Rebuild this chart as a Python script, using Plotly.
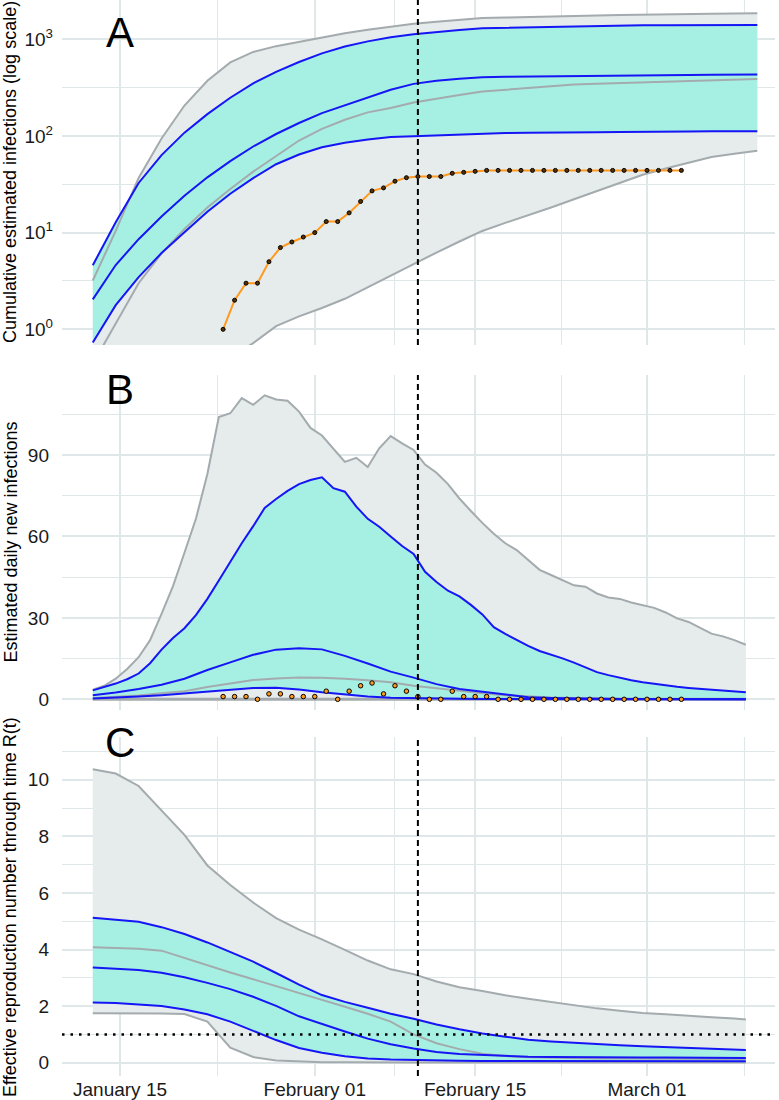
import pandas as pd
import plotly.graph_objects as go

# ---------------- data ----------------
curve_start = pd.Timestamp("2020-01-12 15:00")
steps_daily = list(range(0, 58))
steps_b2 = list(range(0, 57, 2)) + [57]
steps_a2 = list(range(0, 59, 2))

x_daily = [curve_start + pd.Timedelta(days=k) for k in steps_daily]
x_bc = [curve_start + pd.Timedelta(days=k) for k in steps_b2]
x_a = [curve_start + pd.Timedelta(days=k) for k in steps_a2]

obs_dates = list(pd.date_range("2020-01-24", "2020-03-04", freq="D"))
obs_daily = [1, 1, 1, 0, 2, 2, 1, 1, 1, 3, 0, 3, 5, 6, 2, 5, 3, 1, 0, 0, 3, 1, 1, 1,
             0, 0, 0, 0, 0, 0, 0, 0, 0, 0, 0, 0, 0, 0, 0, 0, 0]
obs_cum = [1, 2, 3, 3, 5, 7, 8, 9, 10, 13, 13, 16, 21, 27, 29, 34, 37, 38, 38, 38, 41, 42, 43, 44,
           44, 44, 44, 44, 44, 44, 44, 44, 44, 44, 44, 44, 44, 44, 44, 44, 44]

# Panel A: cumulative infections
A_upper_gray = [3.2, 10.4, 36.8, 94, 206, 371, 575, 738, 847, 938, 1047, 1151, 1250, 1337, 1445,
                1513, 1585, 1651, 1671, 1698, 1722, 1746, 1758, 1778, 1799, 1815, 1822, 1832, 1845, 1853]
A_upper_blue = [4.6, 12.8, 32.6, 63.3, 108, 168, 248, 349, 459, 581, 713, 841, 949, 1047, 1127,
                1194, 1245, 1300, 1315, 1330, 1349, 1365, 1376, 1383, 1390, 1396, 1398, 1400, 1402, 1404]
A_mid_blue = [2.04, 4.62, 8.55, 14.7, 24, 37.3, 54.9, 77.7, 104.6, 136, 172, 208, 250, 300, 345,
              372, 390, 403, 408, 411, 413, 415, 418, 421, 424, 426, 427, 428, 429, 430]
A_low_blue = [0.73, 1.78, 3.47, 6.15, 10.1, 16.4, 25.2, 36.6, 50.9, 64.2, 76.4, 85.1, 91.6, 97.5, 99,
              101, 104, 106, 107, 108, 108, 109, 109, 110, 110, 111, 111, 112, 112, 112]
A_mid_gray = [0.44, 1.17, 3.0, 6.1, 10.9, 18.2, 28.2, 42.7, 61.7, 89.6, 118, 147, 175, 194, 221,
              243, 265, 288, 300, 312, 325, 339, 347, 352, 359, 365, 373, 378, 383, 388]
A_low_gray = [0.008, 0.02, 0.05, 0.11, 0.2, 0.33, 0.5, 0.72, 1.08, 1.36, 1.66, 2.07, 2.73, 3.63, 4.81,
              6.22, 8.09, 10.4, 12.6, 15.1, 18.2, 22.1, 26.9, 32.7, 39.7, 46, 52.8, 60.5, 65.3, 70.2]

# Panel B: daily new infections
B_upper_gray = [3.5, 5.0, 7.6, 11.2, 15.5, 21.8, 31.5, 41.7, 54, 66.5,
                83, 104, 105.4, 111, 108.5, 112, 110.5, 110, 106, 100,
                97.2, 92.5, 87.5, 89, 85.6, 92.5, 97, 94.3, 91.9, 86.5,
                83.5, 79.3, 74, 69.4, 65, 61, 57.5, 55, 51.5, 47.7,
                45.8, 44, 42, 41.5, 39, 37.5, 37, 35.7, 34.7, 33.7,
                32, 29.8, 28.5, 26.5, 24.2, 23.2, 21.8, 20.1]
B_upper_blue = [3.3, 4.5, 5.8, 7.4, 9.5, 13.3, 18.3, 22.6, 26.2, 31,
                37, 43.8, 50.7, 57.5, 63.8, 70.5, 73.8, 76.8, 79.3, 80.8,
                81.8, 77.8, 76.5, 71, 66.5, 63.6, 60, 56.5, 53.6, 47,
                43.2, 40, 37.9, 34.8, 31.3, 26.6, 24.1, 21.8, 19.7, 17.8,
                16.5, 15.1, 13.5, 11.8, 10, 8.9, 7.9, 7, 6.3, 5.7,
                5.1, 4.6, 4.2, 3.9, 3.5, 3.2, 2.9, 2.6]
B_mid_blue = [1.5, 2.5, 3.8, 5.4, 7.6, 10.8, 13.6, 16.4, 18.3, 18.8, 18.4, 16, 13.2, 10.2, 8,
              5.6, 3.8, 2.8, 1.6, 0.8, 0.5, 0.3, 0.2, 0.15, 0.1, 0.1, 0.08, 0.06, 0.05, 0.05]
B_low_blue = [0.3, 0.6, 1.0, 1.5, 2.2, 3.0, 3.7, 4.2, 4.3, 3.6, 2.6, 1.7, 1.0, 0.6, 0.4,
              0.3, 0.2, 0.1, 0.05, 0.05, 0.03, 0.02, 0.02, 0.01, 0.01, 0.01, 0.01, 0.01, 0.01, 0.01]
B_mid_gray = [0.5, 0.9, 1.4, 2.2, 3.0, 4.5, 5.9, 7.1, 7.7, 8.0, 7.9, 7.6, 7.0, 6.3, 5.0,
              4.0, 3.0, 2.2, 1.5, 1.0, 0.7, 0.5, 0.3, 0.2, 0.1, 0.05, 0.05, 0.05, 0.05, 0.05]
B_low_gray = [0, 0, 0, 0, 0, 0, 0, 0, 0, 0, 0, 0, 0, 0, 0,
              0, 0, 0, 0, 0, 0, 0, 0, 0, 0, 0, 0, 0, 0, 0]

# Panel C: effective reproduction number
C_upper_gray = [10.37, 10.22, 9.78, 8.9, 8.05, 6.97, 6.28, 5.66, 5.11, 4.7, 4.36, 3.99, 3.61, 3.3, 3.13,
                2.87, 2.67, 2.53, 2.38, 2.26, 2.15, 2.04, 1.92, 1.84, 1.76, 1.71, 1.67, 1.61, 1.56, 1.53]
C_upper_blue = [5.12, 5.06, 4.98, 4.79, 4.55, 4.25, 3.92, 3.57, 3.17, 2.76, 2.39, 2.15, 1.94, 1.73, 1.55,
                1.35, 1.18, 1.03, 0.92, 0.81, 0.75, 0.7, 0.66, 0.62, 0.58, 0.55, 0.52, 0.49, 0.46, 0.45]
C_mid_gray = [4.08, 4.06, 4.03, 3.96, 3.7, 3.43, 3.19, 2.95, 2.7, 2.46, 2.22, 1.98, 1.73, 1.45, 1.0,
              0.69, 0.48, 0.32, 0.24, 0.19, 0.17, 0.16, 0.15, 0.15, 0.14, 0.14, 0.14, 0.13, 0.13, 0.13]
C_mid_blue = [3.36, 3.33, 3.28, 3.18, 3.02, 2.82, 2.6, 2.33, 2.01, 1.64, 1.36, 1.1, 0.85, 0.65, 0.5,
              0.38, 0.31, 0.27, 0.24, 0.21, 0.2, 0.19, 0.19, 0.18, 0.18, 0.18, 0.18, 0.17, 0.17, 0.17]
C_low_blue = [2.13, 2.11, 2.06, 2.0, 1.88, 1.71, 1.45, 1.12, 0.8, 0.52, 0.35, 0.23, 0.15, 0.11, 0.09,
              0.08, 0.07, 0.06, 0.06, 0.06, 0.05, 0.05, 0.05, 0.05, 0.05, 0.05, 0.05, 0.05, 0.05, 0.05]
C_low_gray = [1.75, 1.75, 1.74, 1.74, 1.72, 1.45, 0.53, 0.2, 0.08, 0.04, 0.02, 0.02, 0.01, 0.01, 0.01,
              0.01, 0.01, 0.01, 0.01, 0.01, 0.01, 0.01, 0.01, 0.01, 0.01, 0.01, 0.01, 0.01, 0.01, 0.01]

x_tick_dates = ["2020-01-15", "2020-02-01", "2020-02-15", "2020-03-01"]
x_tick_labels = ["January 15", "February 01", "February 15", "March 01"]
x_minor_dates = ["2020-01-23 12:00", "2020-02-08", "2020-02-22 12:00", "2020-03-09 12:00"]
cutoff_date = "2020-02-10"

A_ticks = [1, 10, 100, 1000]
A_ticktext = ["10<sup>0</sup>", "10<sup>1</sup>", "10<sup>2</sup>", "10<sup>3</sup>"]
A_minor = [3.1623, 31.623, 316.23]
B_ticks = [0, 30, 60, 90]
B_minor = [15, 45, 75, 105]
C_ticks = [0, 2, 4, 6, 8, 10]
C_minor = [1, 3, 5, 7, 9, 11]

y_titles = ["Cumulative estimated infections (log scale)",
            "Estimated daily new infections",
            "Effective reproduction number through time R(t)"]
panel_letters = ["A", "B", "C"]

# ---------------- styling ----------------
GRAY_FILL = "#E6EBEC"
GRAY_LINE = "#A3ABAE"
TEAL_FILL = "#A6F0E3"
BLUE = "#1515F5"
ORANGE = "#FF9A1F"
GRID = "#E0E7E9"
FONT = "Liberation Sans, Arial, sans-serif"

fig = go.Figure()


def band(x_up, up, x_lo, lo, color, xa, ya):
    fig.add_trace(go.Scatter(
        x=list(x_up) + list(x_lo)[::-1], y=list(up) + list(lo)[::-1],
        fill="toself", fillcolor=color, mode="lines", line=dict(width=0),
        hoverinfo="skip", showlegend=False, xaxis=xa, yaxis=ya))


def line(x, y, color, width, xa, ya):
    fig.add_trace(go.Scatter(x=x, y=y, mode="lines", line=dict(color=color, width=width),
                             hoverinfo="skip", showlegend=False, xaxis=xa, yaxis=ya))


# Panel A
band(x_a, A_upper_gray, x_a, A_low_gray, GRAY_FILL, "x", "y")
band(x_a, A_upper_blue, x_a, A_low_blue, TEAL_FILL, "x", "y")
for s in (A_upper_gray, A_mid_gray, A_low_gray):
    line(x_a, s, GRAY_LINE, 2, "x", "y")
for s in (A_upper_blue, A_mid_blue, A_low_blue):
    line(x_a, s, BLUE, 2, "x", "y")
fig.add_trace(go.Scatter(x=obs_dates, y=obs_cum, mode="lines+markers",
                         line=dict(color=ORANGE, width=2),
                         marker=dict(size=4, color="#553300", line=dict(color="black", width=1)),
                         hoverinfo="skip", showlegend=False, xaxis="x", yaxis="y"))

# Panel B
band(x_daily, B_upper_gray, x_bc, B_low_gray, GRAY_FILL, "x2", "y2")
band(x_daily, B_upper_blue, x_bc, B_low_blue, TEAL_FILL, "x2", "y2")
line(x_daily, B_upper_gray, GRAY_LINE, 2, "x2", "y2")
line(x_bc, B_mid_gray, GRAY_LINE, 2, "x2", "y2")
line(x_bc, B_low_gray, GRAY_LINE, 3, "x2", "y2")
line(x_daily, B_upper_blue, BLUE, 2, "x2", "y2")
line(x_bc, B_mid_blue, BLUE, 2, "x2", "y2")
line(x_bc, B_low_blue, BLUE, 2, "x2", "y2")
fig.add_trace(go.Scatter(x=obs_dates, y=obs_daily, mode="markers",
                         marker=dict(size=4.5, color=ORANGE, line=dict(color="black", width=1)),
                         hoverinfo="skip", showlegend=False, xaxis="x2", yaxis="y2"))

# Panel C
band(x_bc, C_upper_gray, x_bc, C_low_gray, GRAY_FILL, "x3", "y3")
band(x_bc, C_upper_blue, x_bc, C_low_blue, TEAL_FILL, "x3", "y3")
for s in (C_upper_gray, C_mid_gray, C_low_gray):
    line(x_bc, s, GRAY_LINE, 2, "x3", "y3")
for s in (C_upper_blue, C_mid_blue, C_low_blue):
    line(x_bc, s, BLUE, 2, "x3", "y3")

# ---------------- layout ----------------
W, H = 779, 1100
ML, MR, MT, MB = 62, 4, 0, 24
PH = H - MT - MB
PW = W - ML - MR


def ypaper(px):
    return (H - MB - px) / PH


def xpaper(px):
    return (px - ML) / PW


doms = [(ypaper(345), 1.0), (ypaper(710), ypaper(375)), (0.0, ypaper(737))]
x_range = ["2020-01-09 22:29", "2020-03-12 04:05"]

tickfont = dict(family=FONT, size=19, color="#1a1a1a")

for i, xa in enumerate(["xaxis", "xaxis2", "xaxis3"]):
    yname = "y" if i == 0 else f"y{i+1}"
    fig.layout[xa] = dict(
        type="date", range=x_range, domain=[0, 1], anchor=yname, automargin=False,
        tickmode="array", tickvals=x_tick_dates, ticktext=x_tick_labels,
        showticklabels=(i == 2), ticks="", showgrid=True, gridcolor=GRID, gridwidth=1.5,
        zeroline=False, showline=False, tickfont=tickfont,
        minor=dict(tickmode="array", tickvals=x_minor_dates, showgrid=True,
                   gridcolor=GRID, gridwidth=1, ticks=""))

fig.layout["yaxis"] = dict(
    type="log", range=[-0.162, 3.405], domain=list(doms[0]), anchor="x", automargin=False,
    tickmode="array", tickvals=A_ticks, ticktext=A_ticktext, ticks="",
    showgrid=True, gridcolor=GRID, gridwidth=1.5, zeroline=False, showline=False,
    tickfont=tickfont, ticklabelstandoff=8,
    minor=dict(tickmode="array", tickvals=A_minor, showgrid=True, gridcolor=GRID, gridwidth=1, ticks=""))
fig.layout["yaxis2"] = dict(
    range=[-3.94, 119.5], domain=list(doms[1]), anchor="x2", automargin=False,
    tickmode="array", tickvals=B_ticks, ticks="",
    showgrid=True, gridcolor=GRID, gridwidth=1.5, zeroline=False, showline=False,
    tickfont=tickfont, ticklabelstandoff=12,
    minor=dict(tickmode="array", tickvals=B_minor, showgrid=True, gridcolor=GRID, gridwidth=1, ticks=""))
fig.layout["yaxis3"] = dict(
    range=[-0.47, 11.51], domain=list(doms[2]), anchor="x3", automargin=False,
    tickmode="array", tickvals=C_ticks, ticks="",
    showgrid=True, gridcolor=GRID, gridwidth=1.5, zeroline=False, showline=False,
    tickfont=tickfont, ticklabelstandoff=12,
    minor=dict(tickmode="array", tickvals=C_minor, showgrid=True, gridcolor=GRID, gridwidth=1, ticks=""))

shapes = []
for yd in ("y domain", "y2 domain", "y3 domain"):
    xr = "x" if yd.startswith("y ") else "x" + yd[1]
    shapes.append(dict(type="line", xref=xr, yref=yd, x0=cutoff_date, x1=cutoff_date, y0=0, y1=1,
                       line=dict(color="black", width=2, dash="6px,4px"), layer="above"))
shapes.append(dict(type="line", xref="x3 domain", yref="y3", x0=0, x1=1, y0=1, y1=1,
                   line=dict(color="black", width=2.5, dash="2.5px,6px"), layer="above"))

annotations = []
title_centers = [172, 542.5, 907]
letter_centers = [33, 389, 742]
for t, yc in zip(y_titles, title_centers):
    annotations.append(dict(text=t, xref="paper", yref="paper", x=xpaper(10), y=ypaper(yc),
                            xanchor="center", yanchor="middle", textangle=-90, showarrow=False,
                            font=dict(family=FONT, size=18, color="black")))
for L, yc in zip(panel_letters, letter_centers):
    annotations.append(dict(text=L, xref="paper", yref="paper", x=xpaper(120), y=ypaper(yc),
                            xanchor="center", yanchor="middle", showarrow=False,
                            font=dict(family=FONT, size=42, color="black")))

fig.update_layout(
    width=W, height=H, margin=dict(l=ML, r=MR, t=MT, b=MB, autoexpand=False),
    paper_bgcolor="white", plot_bgcolor="white",
    shapes=shapes, annotations=annotations, showlegend=False,
    font=dict(family=FONT))

fig.write_html("out.html", config={"displayModeBar": False},
               post_script="document.body.style.margin='0';document.body.style.overflow='hidden';")
